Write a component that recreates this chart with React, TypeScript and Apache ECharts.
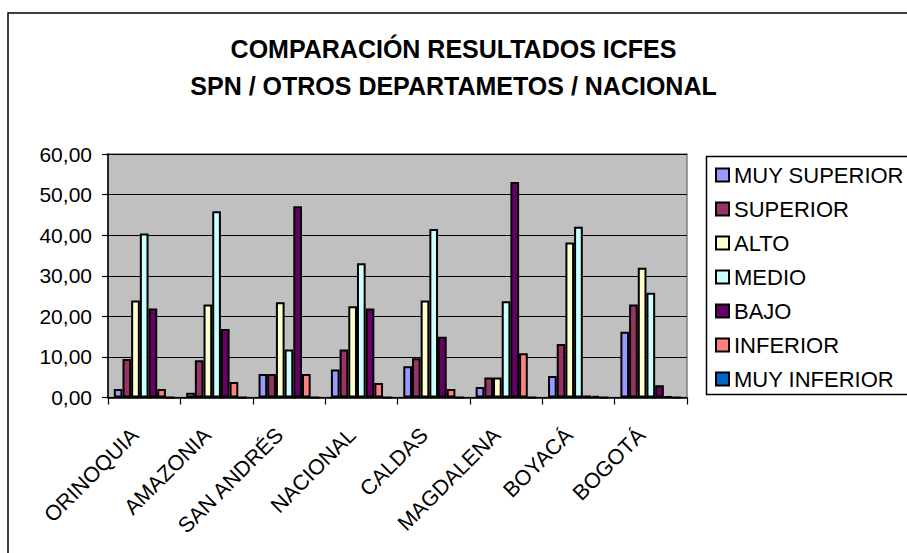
import React, { useEffect, useRef } from "react";
import * as echarts from "echarts";

const categories = ["ORINOQUIA", "AMAZONIA", "SAN ANDRÉS", "NACIONAL", "CALDAS", "MAGDALENA", "BOYACÁ", "BOGOTÁ"];
const seriesNames = ["MUY SUPERIOR", "SUPERIOR", "ALTO", "MEDIO", "BAJO", "INFERIOR", "MUY INFERIOR"];
const muySuperior = [2.1, 1.2, 5.8, 6.9, 7.7, 2.6, 5.3, 16.2];
const superior = [9.5, 9.2, 5.8, 11.8, 9.7, 4.9, 13.2, 22.9];
const alto = [23.9, 22.9, 23.5, 22.5, 23.9, 4.9, 38.2, 32.0];
const medio = [40.4, 45.9, 11.8, 33.1, 41.5, 23.7, 42.1, 25.8];
const bajo = [21.9, 16.9, 47.1, 21.9, 15.0, 53.1, 0.5, 3.0];
const inferior = [2.1, 3.8, 5.8, 3.6, 2.1, 10.9, 0.4, 0.2];
const muyInferior = [0, 0, 0, 0, 0, 0, 0, 0];
const seriesValues = [muySuperior, superior, alto, medio, bajo, inferior, muyInferior];
const colors = ["#9999FF", "#993366", "#FFFFCC", "#CCFFFF", "#660066", "#FF8080", "#0066CC"];
const yTicks = [0, 10, 20, 30, 40, 50, 60];

const FONT = "'Liberation Sans', Arial, sans-serif";

export default function App() {
  const ref = useRef<HTMLDivElement>(null);
  useEffect(() => {
    document.body.style.margin = "0";
    const chart = echarts.init(ref.current!, undefined, { renderer: "svg" });
    chart.setOption({
      animation: false,
      backgroundColor: "#ffffff",
      textStyle: { fontFamily: FONT },
      title: {
        text: "COMPARACIÓN RESULTADOS ICFES\nSPN / OTROS DEPARTAMETOS / NACIONAL",
        left: "center",
        top: 25,
        textStyle: { fontFamily: FONT, fontSize: 25, fontWeight: "bold", color: "#000", lineHeight: 37 },
      },
      graphic: [
        {
          type: "rect",
          shape: { x: 8, y: 13, width: 910, height: 560 },
          style: { fill: "none", stroke: "#000", lineWidth: 1.5 },
          silent: true,
        },
        {
          type: "rect",
          shape: { x: 706.5, y: 156.5, width: 210, height: 238 },
          style: { fill: "#fff", stroke: "#000", lineWidth: 1.5 },
          silent: true,
          z: -1,
        },
      ],
      legend: {
        orient: "vertical",
        left: 715,
        top: 164,
        padding: 0,
        itemWidth: 13,
        itemHeight: 13,
        itemGap: 12,
        icon: "rect",
        textStyle: { fontFamily: FONT, fontSize: 22, color: "#000", lineHeight: 21 },
        data: seriesNames,
        selectedMode: false,
      },
      grid: {
        left: 108,
        right: 220,
        top: 154,
        bottom: 155.5,
        show: true,
        backgroundColor: "#C0C0C0",
        borderColor: "#808080",
        borderWidth: 1.5,
      },
      xAxis: {
        type: "category",
        data: categories,
        boundaryGap: true,
        axisLine: { lineStyle: { color: "#000", width: 1.5 } },
        axisTick: { show: true, length: 7, lineStyle: { color: "#000", width: 1.2 } },
        axisLabel: {
          rotate: 45,
          margin: 25,
          padding: [0, 13, 0, 0],
          fontFamily: FONT,
          fontSize: 21.5,
          color: "#000",
          interval: 0,
        },
      },
      yAxis: {
        type: "value",
        min: yTicks[0],
        max: yTicks[yTicks.length - 1],
        interval: 10,
        axisLine: { show: true, lineStyle: { color: "#000", width: 1.5 } },
        axisTick: { show: true, length: 6, lineStyle: { color: "#000", width: 1.2 } },
        splitLine: { show: true, lineStyle: { color: "#000", width: 1 } },
        axisLabel: {
          margin: 16,
          fontFamily: FONT,
          fontSize: 21,
          color: "#000",
          formatter: (v: number) => v.toFixed(2).replace(".", ","),
        },
      },
      series: seriesNames.map((name, i) => ({
        name,
        type: "bar",
        data: seriesValues[i],
        barGap: "0%",
        barCategoryGap: "16%",
        itemStyle: { color: colors[i], borderColor: "#000", borderWidth: 2 },
      })),
    });
    return () => chart.dispose();
  }, []);
  return <div ref={ref} style={{ width: 907, height: 553 }} />;
}
